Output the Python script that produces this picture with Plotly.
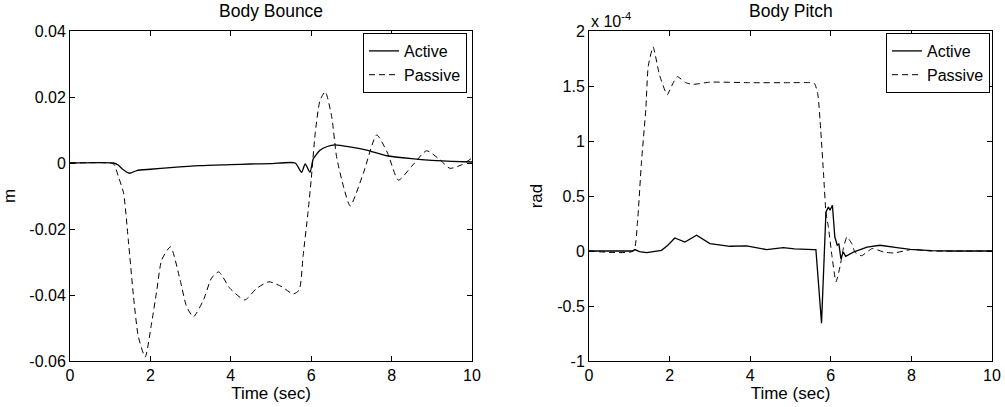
import plotly.graph_objects as go

# ---------------- data ----------------
# Body Bounce (m)
bounce_passive_t = [0, 1.0, 1.1, 1.2, 1.33, 1.45, 1.58, 1.7, 1.87, 2.03, 2.16, 2.28, 2.5, 2.74, 2.9, 3.07,
                    3.32, 3.52, 3.7, 3.98, 4.35, 4.64, 4.95, 5.27, 5.55, 5.7, 5.8, 5.92, 6.0, 6.1, 6.22,
                    6.35, 6.51, 6.63, 6.8, 6.97, 7.3, 7.63, 7.9, 8.17, 8.5, 8.87, 9.2, 9.45, 9.75, 10]
bounce_passive_v = [0, 0, -0.0005, -0.004, -0.009, -0.0233, -0.0405, -0.0526, -0.0588, -0.0485, -0.0385,
                    -0.0294, -0.0254, -0.0355, -0.0435, -0.0466, -0.0415, -0.0349, -0.033, -0.038, -0.0415,
                    -0.038, -0.036, -0.0375, -0.0397, -0.0385, -0.028, -0.015, -0.005, 0.009, 0.019,
                    0.0216, 0.014, 0.002, -0.007, -0.013, -0.003, 0.0085, 0.003, -0.0052, -0.001, 0.0037,
                    0.001, -0.0016, -0.0005, 0.0015]

bounce_active_t = [0, 1.08, 1.2, 1.3, 1.48, 1.66, 2.0, 2.5, 3.23, 4.0, 4.48, 5.0, 5.6, 5.76, 5.85, 5.97,
                   6.05, 6.22, 6.4, 6.59, 7.0, 7.38, 7.88, 8.5, 9.0, 9.5, 10]
bounce_active_v = [0, 0, -0.0006, -0.0018, -0.0031, -0.0023, -0.0019, -0.0014, -0.0008, -0.0005, -0.0003,
                   -0.0002, 0, -0.0028, -0.0003, -0.0028, 0.0012, 0.0039, 0.0050, 0.0055, 0.0048, 0.0039,
                   0.0022, 0.0013, 0.0008, 0.0005, 0.0003]

# Body Pitch (rad, in units of 1e-4)
pitch_passive_t = [0, 1.1, 1.2, 1.3, 1.41, 1.47, 1.59, 1.75, 1.94, 2.05, 2.19, 2.4, 2.59, 3.0, 4.0, 5.0,
                   5.5, 5.6, 5.68, 5.75, 5.82, 5.88, 5.94, 6.03, 6.13, 6.23, 6.31, 6.4, 6.52, 6.6, 6.76,
                   7.03, 7.32, 7.57, 7.99, 8.5, 10]
pitch_passive_v = [0, 0, 0.25, 0.8, 1.29, 1.68, 1.855, 1.6, 1.42, 1.5, 1.585, 1.53, 1.515, 1.535, 1.53,
                   1.53, 1.53, 1.52, 1.42, 1.1, 0.7, 0.35, 0.22, -0.05, -0.28, -0.14, 0.02, 0.127, 0.067,
                   -0.01, -0.043, 0.022, -0.01, -0.018, 0.013, 0.0, 0.0]

pitch_active_t = [0, 1.08, 1.14, 1.25, 1.43, 1.8, 1.95, 2.13, 2.38, 2.67, 3.0, 3.5, 3.91, 4.41, 4.82,
                  5.1, 5.57, 5.63, 5.77, 5.88, 5.94, 5.98, 6.04, 6.1, 6.16, 6.2, 6.25, 6.31, 6.37, 6.48,
                  6.56, 6.9, 7.22, 7.64, 7.97, 8.5, 9.0, 10]
pitch_active_v = [0, 0, 0.013, -0.005, -0.015, 0.006, 0.05, 0.118, 0.082, 0.143, 0.067, 0.043, 0.046,
                  0.013, 0.031, 0.02, 0.013, 0.013, -0.656, 0.355, 0.40, 0.37, 0.416, 0.127, 0.052,
                  0.067, -0.07, -0.01, -0.048, -0.024, -0.01, 0.036, 0.052, 0.031, 0.015, 0.004, 0.0, 0.0]

# ticks
x_ticks = [0, 2, 4, 6, 8, 10]
bounce_ticks = [-0.06, -0.04, -0.02, 0, 0.02, 0.04]
bounce_ticktext = ["-0.06", "-0.04", "-0.02", "0", "0.02", "0.04"]
pitch_ticks = [-1, -0.5, 0, 0.5, 1, 1.5, 2]
pitch_ticktext = ["-1", "-0.5", "0", "0.5", "1", "1.5", "2"]

# ---------------- figure ----------------
FONT = "Liberation Sans, Arial, sans-serif"
FS = 16
DASH = "6px,4px"

fig = go.Figure()
fig.add_trace(go.Scatter(x=bounce_active_t, y=bounce_active_v, name="Active", mode="lines",
                         line=dict(color="black", width=1.3, shape="spline", smoothing=0.6),
                         xaxis="x", yaxis="y", legend="legend"))
fig.add_trace(go.Scatter(x=bounce_passive_t, y=bounce_passive_v, name="Passive", mode="lines",
                         line=dict(color="black", width=1, dash=DASH, shape="spline", smoothing=0.6),
                         xaxis="x", yaxis="y", legend="legend"))
fig.add_trace(go.Scatter(x=pitch_active_t, y=pitch_active_v, name="Active", mode="lines",
                         line=dict(color="black", width=1.3),
                         xaxis="x2", yaxis="y2", legend="legend2"))
fig.add_trace(go.Scatter(x=pitch_passive_t, y=pitch_passive_v, name="Passive", mode="lines",
                         line=dict(color="black", width=1, dash=DASH, shape="spline", smoothing=0.5),
                         xaxis="x2", yaxis="y2", legend="legend2"))

axis_common = dict(showline=True, linecolor="black", linewidth=1, mirror="ticks", ticks="inside",
                   ticklen=5, tickcolor="black", showgrid=False, zeroline=False, automargin=False,
                   tickfont=dict(family=FONT, size=FS, color="black"))
TITLE_FONT = dict(family=FONT, size=17, color="black")

W = 922.0
fig.update_layout(
    width=1005, height=407,
    margin=dict(l=70, r=13, t=31, b=46),
    paper_bgcolor="white", plot_bgcolor="white",
    font=dict(family=FONT, size=FS, color="black"),
    xaxis=dict(domain=[0, 402 / W], range=[0, 10], tickvals=x_ticks,
               title=dict(text="Time (sec)", standoff=0, font=TITLE_FONT), **axis_common),
    yaxis=dict(range=[-0.06, 0.04], tickvals=bounce_ticks, ticktext=bounce_ticktext,
               title=dict(text="m", standoff=12, font=TITLE_FONT), **axis_common),
    xaxis2=dict(domain=[519 / W, 1], range=[0, 10], tickvals=x_ticks, anchor="y2",
                title=dict(text="Time (sec)", standoff=0, font=TITLE_FONT), **axis_common),
    yaxis2=dict(range=[-1, 2], tickvals=pitch_ticks, ticktext=pitch_ticktext, anchor="x2",
                title=dict(text="rad", standoff=10, font=TITLE_FONT), **axis_common),
    legend=dict(x=(467 - 70) / W, y=1 - 2 / 330.0, xanchor="right", yanchor="top",
                bgcolor="white", bordercolor="black", borderwidth=1, itemwidth=30,
                font=dict(family=FONT, size=16, color="black"), tracegroupgap=0),
    legend2=dict(x=(990 - 70) / W, y=1 - 2 / 330.0, xanchor="right", yanchor="top",
                 bgcolor="white", bordercolor="black", borderwidth=1, itemwidth=30,
                 font=dict(family=FONT, size=16, color="black"), tracegroupgap=0),
    annotations=[
        dict(text="Body Bounce", xref="x domain", yref="paper", x=0.5, y=1, xanchor="center",
             yanchor="bottom", yshift=8, showarrow=False, font=dict(family=FONT, size=17.5)),
        dict(text="Body Pitch", xref="x2 domain", yref="paper", x=0.5, y=1, xanchor="center",
             yanchor="bottom", yshift=8, showarrow=False, font=dict(family=FONT, size=17.5)),
        dict(text="x 10<sup>-4</sup>", xref="x2 domain", yref="paper", x=0, y=1, xanchor="left",
             yanchor="bottom", yshift=-1, showarrow=False, font=dict(family=FONT, size=16)),
    ],
)

fig.write_html("out.html")
